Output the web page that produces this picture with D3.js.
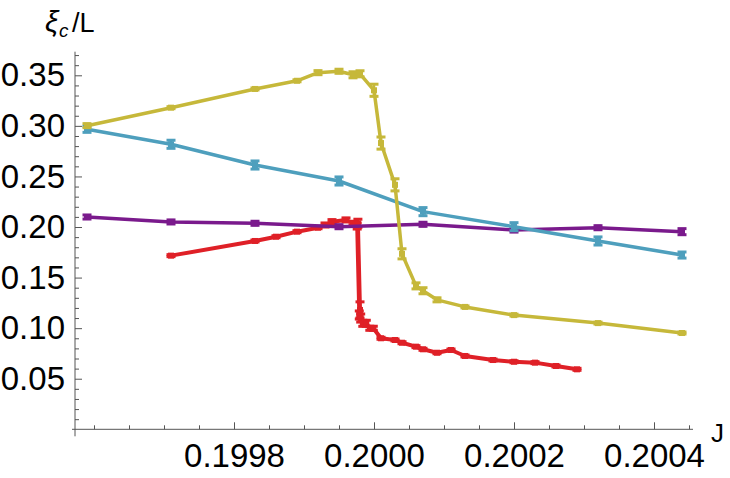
<!DOCTYPE html>
<html>
<head>
<meta charset="utf-8">
<script src="https://cdn.jsdelivr.net/npm/d3@7"></script>
<style>
  body { margin: 0; background: #fff; }
  svg { display: block; }
  .tick text { font-family: "Liberation Sans", Arial, sans-serif; font-size: 33px; fill: #000; }
  .lab { font-family: "Liberation Sans", Arial, sans-serif; font-size: 25px; fill: #000; }
</style>
</head>
<body>
<svg id="chart" width="730" height="478"></svg>
<script>
// tick values
const xMajor = [0.1998, 0.2000, 0.2002, 0.2004];
const yMajor = [0.05, 0.10, 0.15, 0.20, 0.25, 0.30, 0.35];

// yellow series
const yellowJ = [0.19959, 0.19971, 0.19983, 0.19989, 0.19992, 0.19995, 0.19997, 0.19998, 0.20000,
  0.20001, 0.20003, 0.20004, 0.20006, 0.20007, 0.20009, 0.20013, 0.20020, 0.20032, 0.20044];
const yellowV = [0.3002, 0.3180, 0.3365, 0.3446, 0.3526, 0.3540, 0.3505, 0.3515, 0.3352,
  0.2830, 0.2417, 0.1735, 0.1418, 0.1370, 0.1280, 0.1210, 0.1129, 0.1050, 0.0952];
const yellowE = [0.002, 0.001, 0.001, 0.001, 0.002, 0.002, 0.003, 0.003, 0.006,
  0.006, 0.006, 0.005, 0.003, 0.003, 0.002, 0.001, 0.001, 0.001, 0.001];

// blue series
const blueJ = [0.19959, 0.19971, 0.19983, 0.19995, 0.20007, 0.20020, 0.20032, 0.20044];
const blueV = [0.2966, 0.2818, 0.2613, 0.2455, 0.2152, 0.2003, 0.1862, 0.1723];
const blueE = [0.003, 0.004, 0.004, 0.004, 0.004, 0.004, 0.004, 0.003];

// purple series
const purpleJ = [0.19959, 0.19971, 0.19983, 0.19995, 0.20007, 0.20020, 0.20032, 0.20044];
const purpleV = [0.2099, 0.2050, 0.2037, 0.2003, 0.2027, 0.1970, 0.1993, 0.1954];
const purpleE = [0.002, 0.002, 0.002, 0.002, 0.002, 0.002, 0.002, 0.003];

// red series (several runs close to the jump)
const redJ = [0.19971, 0.19983, 0.19986, 0.19989, 0.19992, 0.19993, 0.19994, 0.19996, 0.19997,
  0.199977, 0.199980, 0.199976, 0.199979, 0.199981, 0.199984, 0.199989, 0.199994, 0.199999, 0.20001,
  0.20003, 0.20004, 0.20006, 0.20007, 0.20009, 0.20011, 0.20013, 0.20017, 0.20020, 0.20023,
  0.20026, 0.20029];
const redV = [0.1717, 0.1862, 0.1904, 0.1954, 0.1993, 0.2020, 0.2053, 0.2070, 0.2037,
  0.2037, 0.1180, 0.2010, 0.1130, 0.1100, 0.1048, 0.1048, 0.0999, 0.0999, 0.0900,
  0.0883, 0.0856, 0.0817, 0.0791, 0.0757, 0.0784, 0.0725, 0.0685, 0.0668, 0.0659,
  0.0626, 0.0593];
const redE = [0.001, 0.001, 0.001, 0.001, 0.001, 0.002, 0.002, 0.002, 0.002,
  0.004, 0.008, 0.003, 0.004, 0.004, 0.003, 0.003, 0.002, 0.002, 0.001,
  0.001, 0.001, 0.001, 0.001, 0.001, 0.001, 0.001, 0.001, 0.001, 0.001,
  0.001, 0.001];

const series = [
  { J: redJ, V: redV, E: redE, color: "#df2027", width: 4 },
  { J: purpleJ, V: purpleV, E: purpleE, color: "#7a1a8c", width: 3.5 },
  { J: blueJ, V: blueV, E: blueE, color: "#4e9fbd", width: 3.5 },
  { J: yellowJ, V: yellowV, E: yellowE, color: "#c6b83a", width: 3.5 }
];

const svg = d3.select("#chart");

const x = d3.scaleLinear().domain([0.1998, 0.2004]).range([234, 654]);
const y = d3.scaleLinear().domain([0, 0.35]).range([429.3, 75.3]);

const x0 = x.invert(75), x1 = x.invert(693);
const yTop = y.invert(51.7);
const axisColor = "#555";

// minor ticks
const xMinor = d3.range(0.1996, 0.20046, 0.00005).filter(v => !xMajor.some(m => Math.abs(m - v) < 1e-8));
const yMinor = d3.range(0.01, 0.375, 0.01).filter(v => !yMajor.some(m => Math.abs(m - v) < 1e-8));

// x axis
const gx = svg.append("g").attr("transform", `translate(0,${y(0)})`);
gx.append("g")
  .call(d3.axisBottom(x).tickValues(xMinor).tickSizeInner(-4).tickSizeOuter(0).tickFormat(""))
  .call(g => g.select(".domain").remove());
gx.append("g")
  .call(d3.axisBottom(x).tickValues(xMajor).tickSizeInner(-7).tickSizeOuter(0).tickPadding(14).tickFormat(d3.format(".4f")))
  .call(g => g.select(".domain").remove());
gx.append("line")
  .attr("x1", x(x0) - 3).attr("x2", x(x1))
  .attr("stroke", axisColor);
gx.selectAll(".tick line").attr("stroke", axisColor);

// y axis
const gy = svg.append("g").attr("transform", `translate(${x(x0)},0)`);
gy.append("g")
  .call(d3.axisLeft(y).tickValues(yMinor).tickSizeInner(-4).tickSizeOuter(0).tickFormat(""))
  .call(g => g.select(".domain").remove());
gy.append("g")
  .call(d3.axisLeft(y).tickValues(yMajor).tickSizeInner(-7).tickSizeOuter(0).tickPadding(10).tickFormat(d3.format(".2f")))
  .call(g => g.select(".domain").remove());
gy.append("line")
  .attr("y1", y(yTop)).attr("y2", y(0) + 7)
  .attr("stroke", axisColor);
gy.selectAll(".tick line").attr("stroke", axisColor);

// axis labels
svg.append("text").attr("class", "lab")
  .attr("x", 45).attr("y", 32)
  .style("font-style", "italic").style("font-size", "30px")
  .text("ξ");
svg.append("text").attr("class", "lab")
  .attr("x", 59).attr("y", 37)
  .style("font-style", "italic").style("font-size", "19px")
  .text("c");
svg.append("text").attr("class", "lab")
  .attr("x", 72).attr("y", 32)
  .style("font-size", "27px")
  .text("/L");

svg.append("text").attr("class", "lab")
  .attr("x", 711).attr("y", 442)
  .style("font-size", "26px")
  .text("J");

// series
const line = d3.line().x(d => x(d.j)).y(d => y(d.v));

series.forEach(s => {
  const pts = s.J.map((j, i) => ({ j, v: s.V[i], e: s.E[i] }));
  const g = svg.append("g");
  g.append("path")
    .datum(pts)
    .attr("d", line)
    .attr("fill", "none")
    .attr("stroke", s.color)
    .attr("stroke-width", s.width)
    .attr("stroke-linejoin", "round");

  const bars = g.selectAll("g.err").data(pts).enter().append("g").attr("class", "err")
    .attr("stroke", s.color);
  bars.append("line")
    .attr("x1", d => x(d.j)).attr("x2", d => x(d.j))
    .attr("y1", d => y(d.v - d.e)).attr("y2", d => y(d.v + d.e))
    .attr("stroke-width", 2.5);
  bars.append("line")
    .attr("x1", d => x(d.j) - 4.5).attr("x2", d => x(d.j) + 4.5)
    .attr("y1", d => y(d.v - d.e)).attr("y2", d => y(d.v - d.e))
    .attr("stroke-width", 3);
  bars.append("line")
    .attr("x1", d => x(d.j) - 4.5).attr("x2", d => x(d.j) + 4.5)
    .attr("y1", d => y(d.v + d.e)).attr("y2", d => y(d.v + d.e))
    .attr("stroke-width", 3);
  bars.append("rect")
    .attr("x", d => x(d.j) - 3).attr("y", d => y(d.v) - 3)
    .attr("width", 6).attr("height", 6)
    .attr("fill", s.color).attr("stroke", "none");
});
</script>
</body>
</html>
